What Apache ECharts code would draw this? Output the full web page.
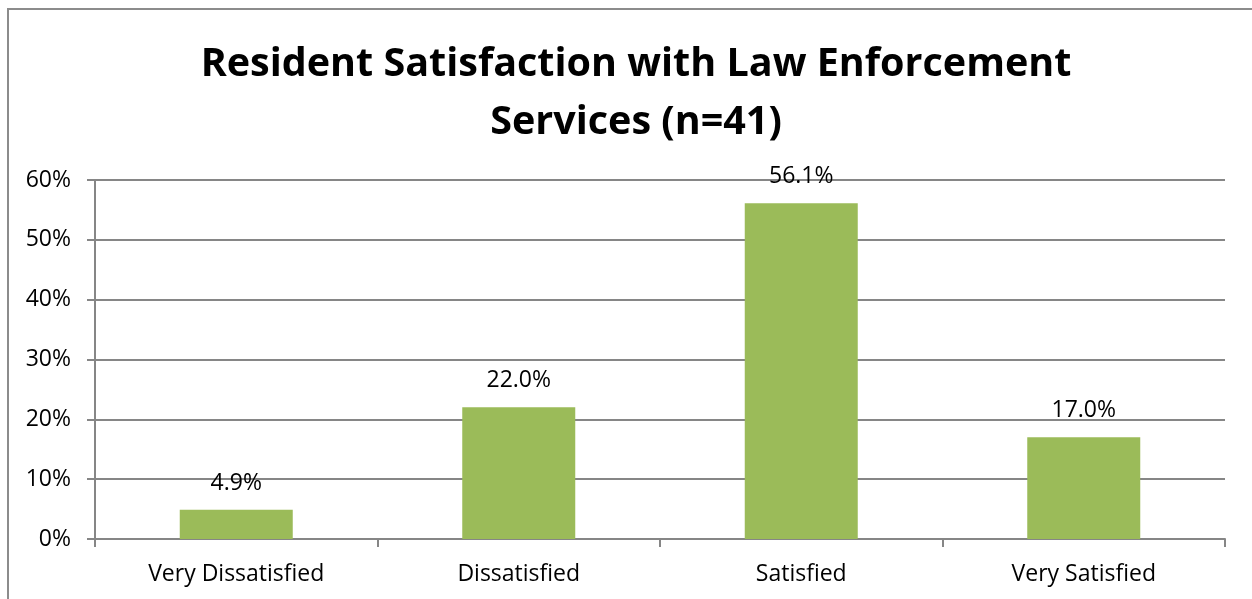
<!DOCTYPE html>
<html>
<head>
<meta charset="utf-8">
<script src="https://cdn.jsdelivr.net/npm/echarts@6/dist/echarts.min.js"></script>
<style>
  html, body { margin: 0; padding: 0; background: #fff; }
  #frame { position: absolute; left: 7px; top: 8px; width: 1300px; height: 700px;
           border: 2px solid #8c8c8c; box-sizing: border-box; }
  #chart { position: absolute; left: 0; top: 0; width: 1252px; height: 599px; }
</style>
</head>
<body>
<div id="frame"></div>
<div id="chart"></div>
<script>
// Survey responses (share of residents, %)
const categories = ['Very Dissatisfied', 'Dissatisfied', 'Satisfied', 'Very Satisfied'];
const shares = [4.9, 22.0, 56.1, 17.0];
const yTicks = [0, 10, 20, 30, 40, 50, 60];

const font = '"Open Sans", Lato, "Liberation Sans", sans-serif';
const chart = echarts.init(document.getElementById('chart'), null, { renderer: 'canvas' });

chart.setOption({
  animation: false,
  backgroundColor: 'transparent',
  title: {
    text: 'Resident Satisfaction with Law Enforcement\nServices (n=41)',
    left: 631,
    textAlign: 'center',
    top: 31,
    textStyle: { fontFamily: font, fontSize: 39.5, fontWeight: 'bold', color: '#000', lineHeight: 58 }
  },
  grid: { left: 95, right: 27, top: 180, bottom: 60, containLabel: false },
  xAxis: {
    type: 'category',
    data: categories,
    axisLine: { lineStyle: { color: '#868686', width: 2 } },
    axisTick: { show: true, alignWithLabel: false, length: 8, lineStyle: { color: '#868686', width: 2 } },
    axisLabel: { fontFamily: font, fontSize: 23, color: '#000', margin: 24 }
  },
  yAxis: {
    type: 'value',
    min: yTicks[0],
    max: yTicks[yTicks.length - 1],
    interval: 10,
    axisLine: { show: true, lineStyle: { color: '#868686', width: 2 } },
    axisTick: { show: true, length: 8, lineStyle: { color: '#868686', width: 2 } },
    splitLine: { lineStyle: { color: '#868686', width: 2 } },
    axisLabel: { fontFamily: font, fontSize: 23, color: '#000', margin: 24,
                 formatter: v => v + '%' }
  },
  series: [{
    type: 'bar',
    data: shares,
    barWidth: '40%',
    itemStyle: { color: '#9BBB59' },
    label: {
      show: true,
      position: 'top',
      distance: 15,
      fontFamily: font,
      fontSize: 23,
      color: '#000',
      formatter: p => p.value.toFixed(1) + '%'
    }
  }]
});
</script>
</body>
</html>
